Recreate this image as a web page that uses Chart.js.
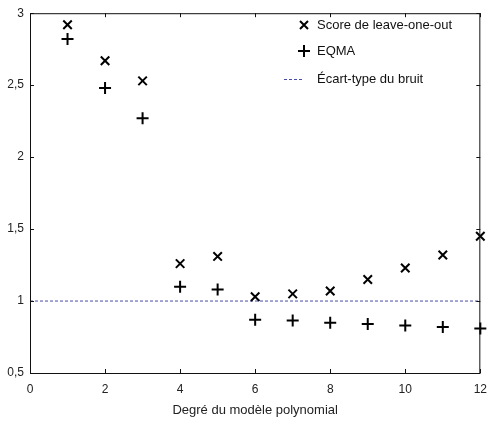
<!DOCTYPE html>
<html>
<head>
<meta charset="utf-8">
<script src="https://cdn.jsdelivr.net/npm/chart.js@4"></script>
<style>
  html, body { margin: 0; padding: 0; background: #fff; }
  #wrap { width: 496px; height: 424px; }
</style>
</head>
<body>
<div id="wrap"><canvas id="c"></canvas></div>
<script>
const degrees = [1, 2, 3, 4, 5, 6, 7, 8, 9, 10, 11, 12];
const looScore = [2.92, 2.67, 2.53, 1.26, 1.31, 1.03, 1.05, 1.07, 1.15, 1.23, 1.32, 1.45];
const eqma = [2.82, 2.48, 2.27, 1.10, 1.08, 0.87, 0.865, 0.85, 0.84, 0.83, 0.82, 0.81];
const noiseStd = 1;
const xRange = [0, 12];
const xTicks = [0, 2, 4, 6, 8, 10, 12];
const yTicks = [0.5, 1, 1.5, 2, 2.5, 3];
const legendLabels = ["Score de leave-one-out", "EQMA", "Écart-type du bruit"];

const FONT = "'Liberation Sans', Arial, Helvetica, sans-serif";
const noiseColor = "#4a4aa8";

// frame around the plot plus ticks pointing inward on all four sides
const framePlugin = {
  id: "frame",
  afterDraw(chart) {
    const { ctx, chartArea: a, scales } = chart;
    ctx.save();
    ctx.strokeStyle = "#111";
    ctx.lineWidth = 1;
    ctx.strokeRect(a.left + 0.5, a.top + 0.5, a.right - a.left - 1, a.bottom - a.top);
    ctx.beginPath();
    for (const v of xTicks) {
      const px = Math.round(scales.x.getPixelForValue(v)) + 0.5;
      ctx.moveTo(px, a.bottom); ctx.lineTo(px, a.bottom - 4);
      ctx.moveTo(px, a.top); ctx.lineTo(px, a.top + 4);
    }
    for (const v of yTicks) {
      const py = Math.round(scales.y.getPixelForValue(v)) + 0.5;
      ctx.moveTo(a.left, py); ctx.lineTo(a.left + 4, py);
      ctx.moveTo(a.right, py); ctx.lineTo(a.right - 4, py);
    }
    ctx.stroke();

    // legend, drawn in the upper right corner like the original
    const mx = 304, tx = 317;
    const rows = [25, 51, 79];
    ctx.font = "13px " + FONT;
    ctx.fillStyle = "#111";
    ctx.textBaseline = "middle";
    ctx.lineWidth = 2;
    ctx.strokeStyle = "#000";
    ctx.beginPath();
    ctx.moveTo(mx - 4, rows[0] - 4); ctx.lineTo(mx + 4, rows[0] + 4);
    ctx.moveTo(mx + 4, rows[0] - 4); ctx.lineTo(mx - 4, rows[0] + 4);
    ctx.moveTo(mx - 6, rows[1]); ctx.lineTo(mx + 6, rows[1]);
    ctx.moveTo(mx, rows[1] - 6); ctx.lineTo(mx, rows[1] + 6);
    ctx.stroke();
    ctx.lineWidth = 1;
    ctx.strokeStyle = noiseColor;
    ctx.setLineDash([3, 2]);
    ctx.beginPath();
    ctx.moveTo(284, rows[2] + 0.5); ctx.lineTo(302, rows[2] + 0.5);
    ctx.stroke();
    ctx.setLineDash([]);
    legendLabels.forEach((t, i) => ctx.fillText(t, tx, rows[i]));
    ctx.restore();
  },
};

new Chart(document.getElementById("c"), {
  type: "scatter",
  plugins: [framePlugin],
  data: {
    datasets: [
      {
        label: legendLabels[0],
        data: degrees.map((d, i) => ({ x: d, y: looScore[i] })),
        pointStyle: "crossRot",
        pointRadius: 6,
        borderColor: "#000",
        borderWidth: 2,
        clip: false,
      },
      {
        label: legendLabels[1],
        data: degrees.map((d, i) => ({ x: d, y: eqma[i] })),
        pointStyle: "cross",
        pointRadius: 6,
        borderColor: "#000",
        borderWidth: 2,
        clip: false,
      },
      {
        type: "line",
        label: legendLabels[2],
        data: xRange.map((x) => ({ x, y: noiseStd })),
        borderColor: noiseColor,
        borderWidth: 1,
        borderDash: [3, 2],
        pointRadius: 0,
      },
    ],
  },
  options: {
    animation: false,
    responsive: true,
    maintainAspectRatio: false,
    layout: { padding: { top: 12, right: 8, left: 0, bottom: 0 } },
    plugins: {
      legend: { display: false },
      tooltip: { enabled: false },
    },
    scales: {
      x: {
        type: "linear",
        min: xRange[0],
        max: xRange[1],
        afterFit: (s) => { s.height = 51; },
        afterBuildTicks: (s) => { s.ticks = xTicks.map((v) => ({ value: v })); },
        grid: { display: false, drawTicks: false },
        border: { display: false },
        ticks: {
          padding: 9,
          color: "#222",
          font: { family: FONT, size: 12 },
          maxRotation: 0,
        },
        title: {
          display: true,
          text: "Degré du modèle polynomial",
          color: "#222",
          font: { family: FONT, size: 13 },
          padding: { top: 0, bottom: 6 },
        },
      },
      y: {
        min: 0.5,
        max: 3,
        afterFit: (s) => { s.width = 30; },
        afterBuildTicks: (s) => { s.ticks = yTicks.map((v) => ({ value: v })); },
        grid: { display: false, drawTicks: false },
        border: { display: false },
        ticks: {
          padding: 6,
          color: "#222",
          font: { family: FONT, size: 12 },
          callback: (v) => String(v).replace(".", ","),
        },
      },
    },
  },
});
</script>
</body>
</html>
